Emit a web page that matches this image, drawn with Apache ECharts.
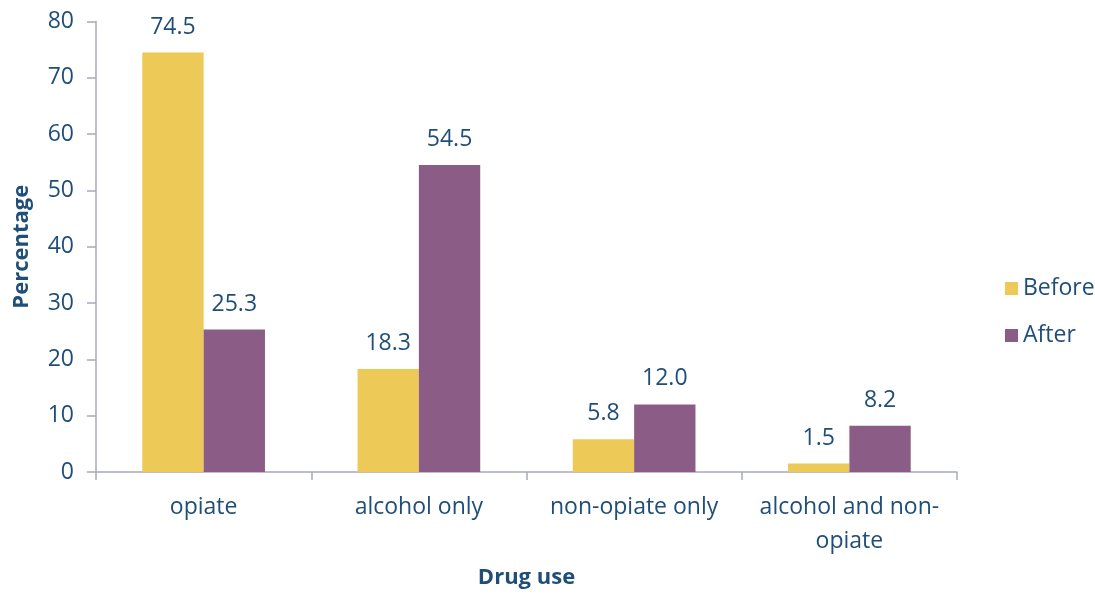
<!DOCTYPE html>
<html><head><meta charset="utf-8">
<script src="https://cdn.jsdelivr.net/npm/echarts@6/dist/echarts.min.js"></script>
<style>html,body{margin:0;padding:0;background:#fff;overflow:hidden}#c{width:1095px;height:594px}</style>
</head><body><div id="c"></div>
<script>
const categories = ['opiate', 'alcohol only', 'non-opiate only', 'alcohol and non-\nopiate'];
const beforeValues = [74.5, 18.3, 5.8, 1.5];
const afterValues = [25.3, 54.5, 12.0, 8.2];
const seriesNames = ['Before', 'After'];
const yTicks = [0, 10, 20, 30, 40, 50, 60, 70, 80];

const textColor = '#1F4E79';
const axisColor = '#A6AAB8';
const font = '"Open Sans", "Noto Sans", sans-serif';
const chart = echarts.init(document.getElementById('c'));
const label = {show: true, position: 'top', distance: 14, color: textColor, fontSize: 23, fontFamily: font,
  formatter: p => p.value.toFixed(1)};
chart.setOption({
  animation: false,
  grid: {left: 96, right: 138, top: 21.5, bottom: 114, containLabel: false},
  legend: {orient: 'vertical', left: 1000, top: 272, itemWidth: 13, itemHeight: 13, itemGap: 24,
    icon: 'rect', textStyle: {color: textColor, fontSize: 23, fontFamily: font}, data: seriesNames},
  xAxis: {type: 'category', data: categories, name: 'Drug use', nameLocation: 'middle', nameGap: 95,
    nameTextStyle: {color: textColor, fontSize: 22, fontWeight: 'bold', fontFamily: font},
    axisLine: {lineStyle: {color: axisColor, width: 1.5}},
    axisTick: {show: true, length: 8, interval: 0, lineStyle: {color: axisColor, width: 1.5}},
    axisLabel: {interval: 0, hideOverlap: false, color: textColor, fontSize: 23, fontFamily: font, margin: 18, lineHeight: 34}},
  yAxis: {type: 'value', min: yTicks[0], max: yTicks[yTicks.length - 1], interval: 10,
    name: 'Percentage', nameLocation: 'middle', nameGap: 63,
    nameTextStyle: {color: textColor, fontSize: 22, fontWeight: 'bold', fontFamily: font},
    axisLine: {show: true, lineStyle: {color: axisColor, width: 1.5}},
    axisTick: {show: true, inside: false, length: 9, lineStyle: {color: axisColor, width: 1.5}},
    splitLine: {show: false},
    axisLabel: {color: textColor, fontSize: 23, fontFamily: font, margin: 22}},
  series: [
    {name: seriesNames[0], type: 'bar', data: beforeValues, barGap: '0%', barCategoryGap: '43%',
      itemStyle: {color: '#EDCA57'}, label: label},
    {name: seriesNames[1], type: 'bar', data: afterValues, barGap: '0%', barCategoryGap: '43%',
      itemStyle: {color: '#8B5D86'}, label: label}
  ]
});
</script></body></html>
